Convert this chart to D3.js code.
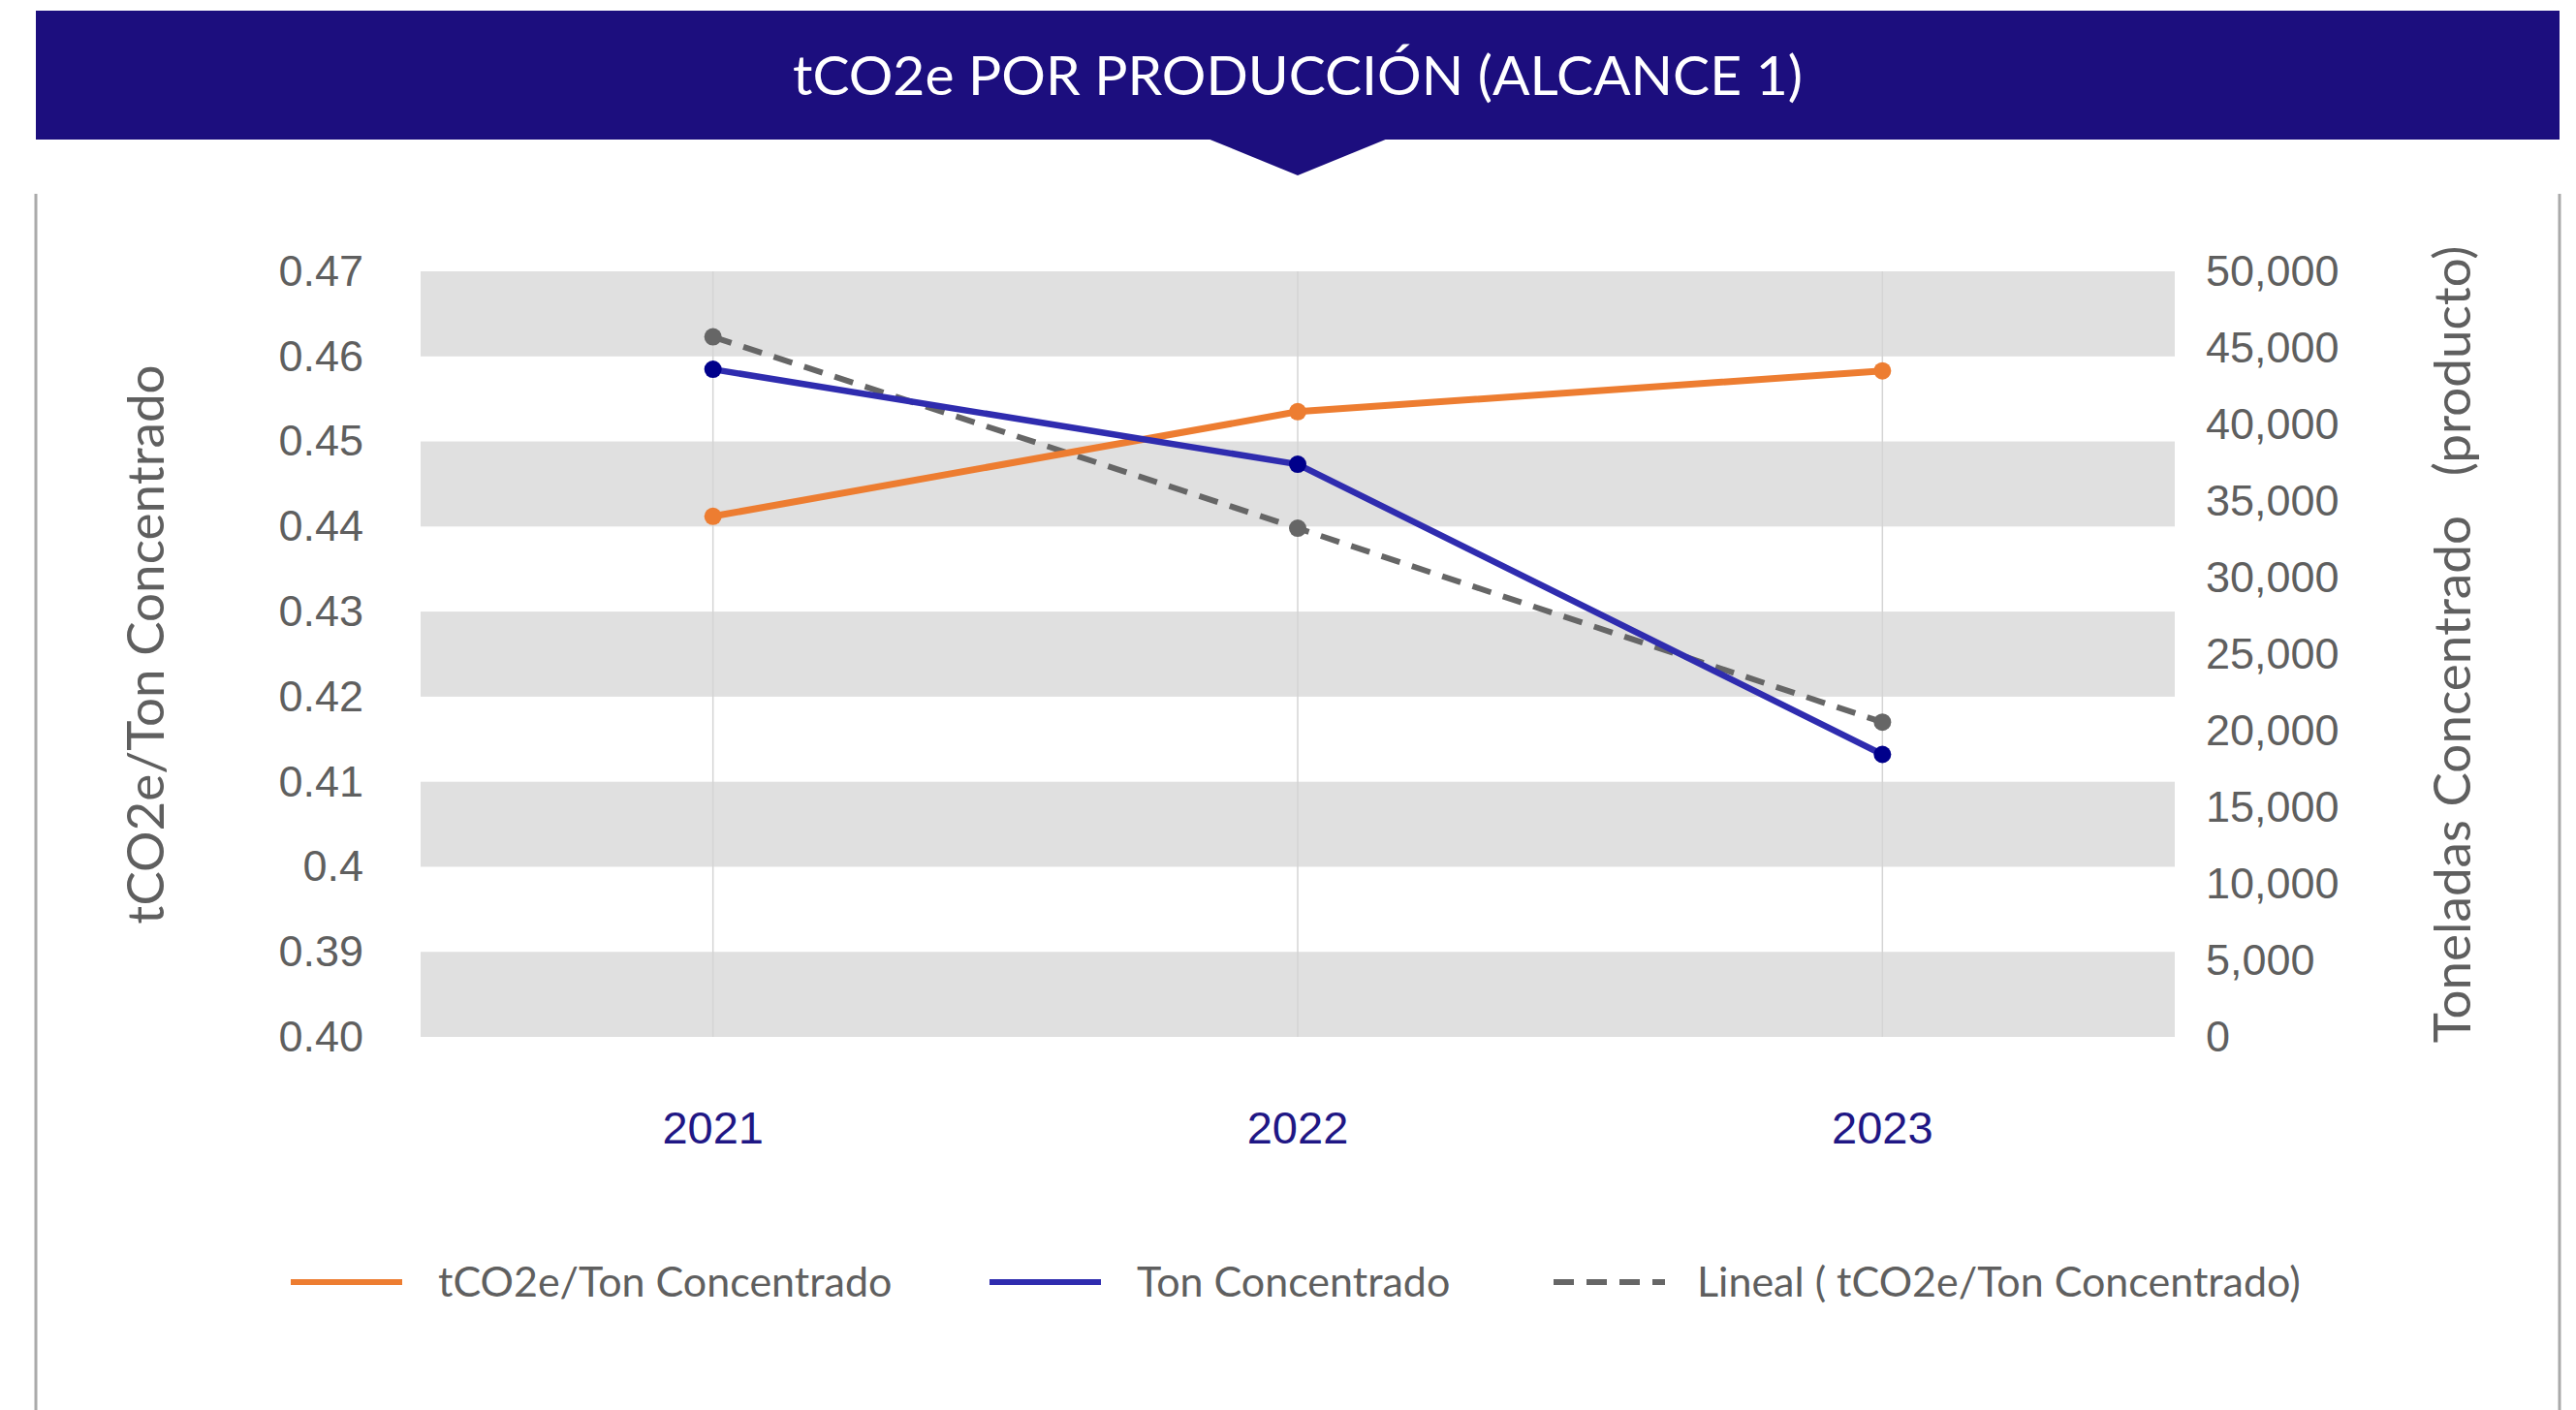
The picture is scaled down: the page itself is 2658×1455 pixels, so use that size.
<!DOCTYPE html>
<html>
<head>
<meta charset="utf-8">
<script src="https://cdn.jsdelivr.net/npm/d3@7"></script>
<style>
  body { margin: 0; background: #fff; }
  svg { display: block; }
</style>
</head>
<body>
<script>
// data
const years = ['2021', '2022', '2023'];
const ratio = [0.4412, 0.4535, 0.4583];        // tCO2e/Ton Concentrado (left axis)
const tons = [43600, 37400, 18450];            // Ton Concentrado (right axis)
const trend = [0.4623, 0.4398, 0.4170];        // Lineal ( tCO2e/Ton Concentrado)
const leftTicks = [0.47, 0.46, 0.45, 0.44, 0.43, 0.42, 0.41, 0.40, 0.39, 0.38];
const leftTickLabels = ['0.47', '0.46', '0.45', '0.44', '0.43', '0.42', '0.41', '0.4', '0.39', '0.40'];
const rightTicks = [0, 5000, 10000, 15000, 20000, 25000, 30000, 35000, 40000, 45000, 50000];

const W = 2658, H = 1455;
const plot = {left: 434, right: 2244, top: 280, bottom: 1070};

const svg = d3.select('body').append('svg')
  .attr('width', W)
  .attr('height', H);

// header banner
svg.append('rect')
  .attr('x', 37).attr('y', 11)
  .attr('width', 2604).attr('height', 133)
  .attr('fill', '#1c0e7e');
svg.append('path')
  .attr('d', 'M1246,143 L1432,143 L1339,181 Z')
  .attr('fill', '#1c0e7e');
svg.append('text')
  .attr('x', 1339).attr('y', 98)
  .attr('text-anchor', 'middle')
  .style('font-family', 'Lato, sans-serif')
  .style('font-size', '57px')
  .attr('fill', '#fff')
  .text('tCO2e POR PRODUCCIÓN (ALCANCE 1)');

// side borders of the card
[37, 2641].forEach(x => {
  svg.append('line')
    .attr('x1', x).attr('x2', x)
    .attr('y1', 200).attr('y2', H)
    .attr('stroke', '#aaa')
    .attr('stroke-width', 3);
});

const x = d3.scaleBand().domain(years).range([plot.left, plot.right]);
const yL = d3.scaleLinear().domain([0.38, 0.47]).range([plot.bottom, plot.top]);
const yR = d3.scaleLinear().domain([0, 50000]).range([plot.bottom, plot.top]);

// alternating gray bands
const bands = d3.range(0, leftTicks.length - 1).filter(i => i % 2 === 0);
svg.append('g').selectAll('rect')
  .data(bands).enter().append('rect')
  .attr('x', plot.left)
  .attr('width', plot.right - plot.left)
  .attr('y', i => yL(leftTicks[i]))
  .attr('height', i => yL(leftTicks[i + 1]) - yL(leftTicks[i]))
  .attr('fill', '#e0e0e0');

// vertical category lines
svg.append('g').selectAll('line')
  .data(years).enter().append('line')
  .attr('x1', d => x(d) + x.bandwidth() / 2)
  .attr('x2', d => x(d) + x.bandwidth() / 2)
  .attr('y1', plot.top).attr('y2', plot.bottom)
  .attr('stroke', '#d4d4d4')
  .attr('stroke-width', 1.5);

// axes
const leftAxis = svg.append('g')
  .attr('transform', `translate(${plot.left},0)`)
  .call(d3.axisLeft(yL).tickValues(leftTicks).tickSize(0).tickPadding(59)
    .tickFormat((d, i) => leftTickLabels[i]));
const rightAxis = svg.append('g')
  .attr('transform', `translate(${plot.right},0)`)
  .call(d3.axisRight(yR).tickValues(rightTicks).tickSize(0).tickPadding(32)
    .tickFormat(d3.format(',')));
const bottomAxis = svg.append('g')
  .attr('transform', `translate(0,${plot.bottom})`)
  .call(d3.axisBottom(x).tickSize(0).tickPadding(94));

[leftAxis, rightAxis, bottomAxis].forEach(a => {
  a.select('.domain').remove();
  a.selectAll('text')
    .style('font-family', '"Liberation Sans", Arial, sans-serif')
    .style('font-size', '45px')
    .attr('fill', '#5f5f5f');
});
bottomAxis.selectAll('text')
  .attr('fill', '#1f1785')
  .attr('dy', '0.35em')
  .style('font-size', '47px');

// axis titles
svg.append('text')
  .attr('transform', 'translate(169,665) rotate(-90)')
  .attr('text-anchor', 'middle')
  .style('font-family', 'Lato, sans-serif')
  .style('font-size', '53px')
  .attr('fill', '#5f5f5f')
  .text('tCO2e/Ton Concentrado');
svg.append('text')
  .attr('transform', 'translate(2549,665) rotate(-90)')
  .attr('text-anchor', 'middle')
  .attr('xml:space', 'preserve')
  .style('white-space', 'pre')
  .style('font-family', 'Lato, sans-serif')
  .style('font-size', '53px')
  .attr('fill', '#5f5f5f')
  .text('Toneladas Concentrado   (producto)');

const cx = d => x(d) + x.bandwidth() / 2;

const series = [
  {name: 'tCO2e/Ton Concentrado', values: ratio, y: yL, line: '#ed7d31', dot: '#ed7d31', dash: null, w: 7},
  {name: 'Ton Concentrado', values: tons, y: yR, line: '#2f2caf', dot: '#00008b', dash: null, w: 6.5},
  {name: 'Lineal ( tCO2e/Ton Concentrado)', values: trend, y: yL, line: '#666', dot: '#666', dash: '20,13', w: 6}
];

// draw the trend first, then the two series
[series[2], series[0], series[1]].forEach(s => {
  const line = d3.line().x((d, i) => cx(years[i])).y(d => s.y(d));
  svg.append('path')
    .attr('d', line(s.values))
    .attr('fill', 'none')
    .attr('stroke', s.line)
    .attr('stroke-width', s.w)
    .attr('stroke-dasharray', s.dash);
  svg.append('g').selectAll('circle')
    .data(s.values).enter().append('circle')
    .attr('cx', (d, i) => cx(years[i]))
    .attr('cy', d => s.y(d))
    .attr('r', 9)
    .attr('fill', s.dot);
});

// legend
const legendX = [300, 1021, 1603];
const leg = svg.append('g').selectAll('g')
  .data(series).enter().append('g')
  .attr('transform', (d, i) => `translate(${legendX[i]},1323)`);
leg.append('line')
  .attr('x1', 0).attr('x2', 115)
  .attr('stroke', d => d.line)
  .attr('stroke-width', 6)
  .attr('stroke-dasharray', d => d.dash ? '21,13' : null);
leg.append('text')
  .attr('x', (d, i) => i === 2 ? 148 : 152)
  .attr('dy', '0.35em')
  .style('font-family', 'Lato, sans-serif')
  .style('font-size', '43px')
  .attr('fill', '#5f5f5f')
  .text(d => d.name);
</script>
</body>
</html>
